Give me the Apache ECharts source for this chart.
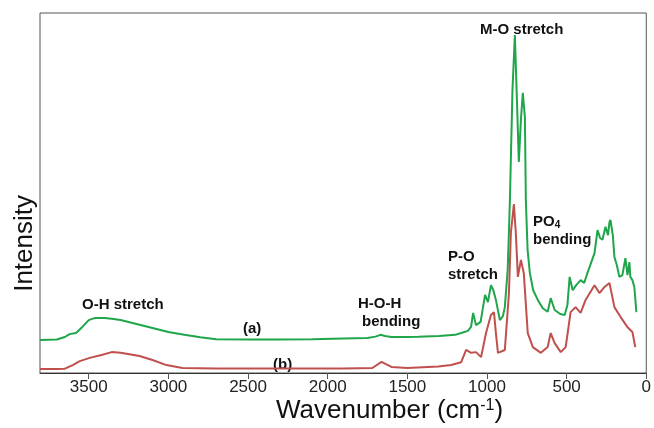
<!DOCTYPE html>
<html>
<head>
<meta charset="utf-8">
<script src="https://cdn.jsdelivr.net/npm/echarts@6/dist/echarts.min.js"></script>
<style>
    html,body{margin:0;padding:0;background:#fff;}
    #chart{width:654px;height:428px;}
</style>
</head>
<body>
<div id="chart"></div>
<script>
// wavenumber (cm-1) and intensity, curve (a)
var wavenumberA = [3806,3700,3650,3620,3580,3540,3500,3460,3400,3356,3300,3200,3100,3000,2900,2800,2700,2500,2300,2100,1900,1750,1700,1669,1640,1600,1500,1431,1300,1200,1162,1120,1100,1087,1069,1040,1012,994,975,960,944,919,900,888,870,856,840,825,812,800,787,775,762,756,745,731,710,681,650,619,600,575,540,512,495,481,462,440,412,390,369,345,325,306,290,275,256,240,231,225,210,200,185,169,150,131,118,106,100,87,75,62];
var intensityA = [9.2,9.3,10,10.8,11.1,12.8,14.7,15.3,15.3,15.1,14.7,13.6,12.5,11.4,10.6,9.9,9.4,9.3,9.3,9.4,9.6,9.7,10.1,10.6,10.3,10,10,10.1,10.3,10.6,11.1,11.7,12.8,16.7,13.3,14.2,21.7,19.7,24.4,23,20.3,14.7,15.8,18.3,28.6,48,78.6,93.9,75.8,58.6,70.3,77.8,71.1,48,34.2,27.8,23,20.3,18,17,20.8,17.5,16.4,16.1,18.9,26.7,23,24.4,25.8,25,27.8,30.8,33.3,39.7,37.5,37,40.6,38.3,41.9,42.5,38.3,32.2,30,26.7,27.2,31.9,27.2,30.8,26.7,25.8,23.9,16.9];

// curve (b)
var wavenumberB = [3806,3700,3650,3600,3556,3494,3420,3356,3300,3181,3100,3012,2912,2700,2500,2200,1900,1720,1662,1600,1500,1306,1225,1162,1131,1100,1069,1037,1006,975,956,944,931,888,862,850,831,819,806,787,769,744,712,662,619,600,575,537,506,475,444,412,381,325,294,262,231,219,200,162,119,87,69];
var intensityB = [1.1,1.1,1.2,2.2,3.3,4.2,5,5.8,5.6,4.7,3.6,2.2,1.4,1.25,1.25,1.25,1.25,1.4,3.1,1.7,1.4,1.8,2.2,3,6.4,5.6,5.8,4.4,11.1,16.1,16.9,11.1,5.6,6.4,22.2,38.9,46.9,38.9,26.7,31.4,27.8,11.1,7.2,5.6,7.2,11.1,8.3,5.8,7.2,16.9,18.3,16.7,20.3,24.4,22.2,23.9,25,25.3,18.3,15.6,12.8,11.4,7.2];

var xTicks = [0,500,1000,1500,2000,2500,3000,3500];

function pairs(xs, ys){
    return xs.map(function(x,i){ return [x, ys[i]]; });
}

var chart = echarts.init(document.getElementById('chart'));
var lbl = {fontFamily:'Liberation Sans, Arial', fontSize:15, fontWeight:'bold', fill:'#111'};
function txt(x,y,s,extra){
    var st = Object.assign({text:s, textVerticalAlign:'middle'}, lbl, extra||{});
    return {type:'text', left:x, top:y, style:st, silent:true};
}

chart.setOption({
    animation:false,
    grid:{left:40, right:5, top:13, bottom:55, show:true, borderColor:'#555', borderWidth:1},
    xAxis:{
        type:'value', inverse:true, min:0, max:3806,
        axisLine:{show:true, lineStyle:{color:'#333', width:1}},
        axisTick:{show:true, length:6, customValues:xTicks, lineStyle:{color:'#555'}},
        axisLabel:{
            fontFamily:'Liberation Sans, Arial', fontSize:17, color:'#222', margin:6,
            customValues:xTicks,
            formatter:function(v){ return String(v); }
        },
        splitLine:{show:false}
    },
    yAxis:{
        type:'value', min:0, max:100,
        axisLine:{show:false}, axisTick:{show:false}, axisLabel:{show:false}, splitLine:{show:false}
    },
    series:[
        {name:'(a)', type:'line', data:pairs(wavenumberA,intensityA), showSymbol:false,
         lineStyle:{color:'#1fa64a', width:2}, itemStyle:{color:'#1fa64a'}},
        {name:'(b)', type:'line', data:pairs(wavenumberB,intensityB), showSymbol:false,
         lineStyle:{color:'#c0504d', width:2}, itemStyle:{color:'#c0504d'}}
    ],
    graphic:[
        {type:'text', left:276, top:398, silent:true,
         style:{rich:{n:{fontSize:26,fontFamily:'Liberation Sans, Arial',fill:'#111'},
                     s:{fontSize:16,fontFamily:'Liberation Sans, Arial',fill:'#111',verticalAlign:'top',padding:[0,0,10,0]}},
                text:'{n|Wavenumber (cm}{s|-1}{n|)}'}},
        {type:'text', left:12, top:195, rotation:Math.PI/2, silent:true,
         style:{text:'Intensity', fontSize:26, fontFamily:'Liberation Sans, Arial', fill:'#111'}},
        txt(82,297,'O-H stretch'),
        txt(243,321,'(a)'),
        txt(273,357,'(b)'),
        txt(358,296,'H-O-H'),
        txt(362,314,'bending'),
        txt(448,249,'P-O'),
        txt(448,267,'stretch'),
        txt(480,22,'M-O stretch'),
        {type:'text', left:533, top:214, silent:true,
         style:{rich:{n:{fontSize:15,fontWeight:'bold',fontFamily:'Liberation Sans, Arial',fill:'#111'},
                     s:{fontSize:10,fontWeight:'bold',fontFamily:'Liberation Sans, Arial',fill:'#111',padding:[8,0,0,0]}},
                text:'{n|PO}{s|4}'}},
        txt(533,232,'bending')
    ]
});
</script>
</body>
</html>
